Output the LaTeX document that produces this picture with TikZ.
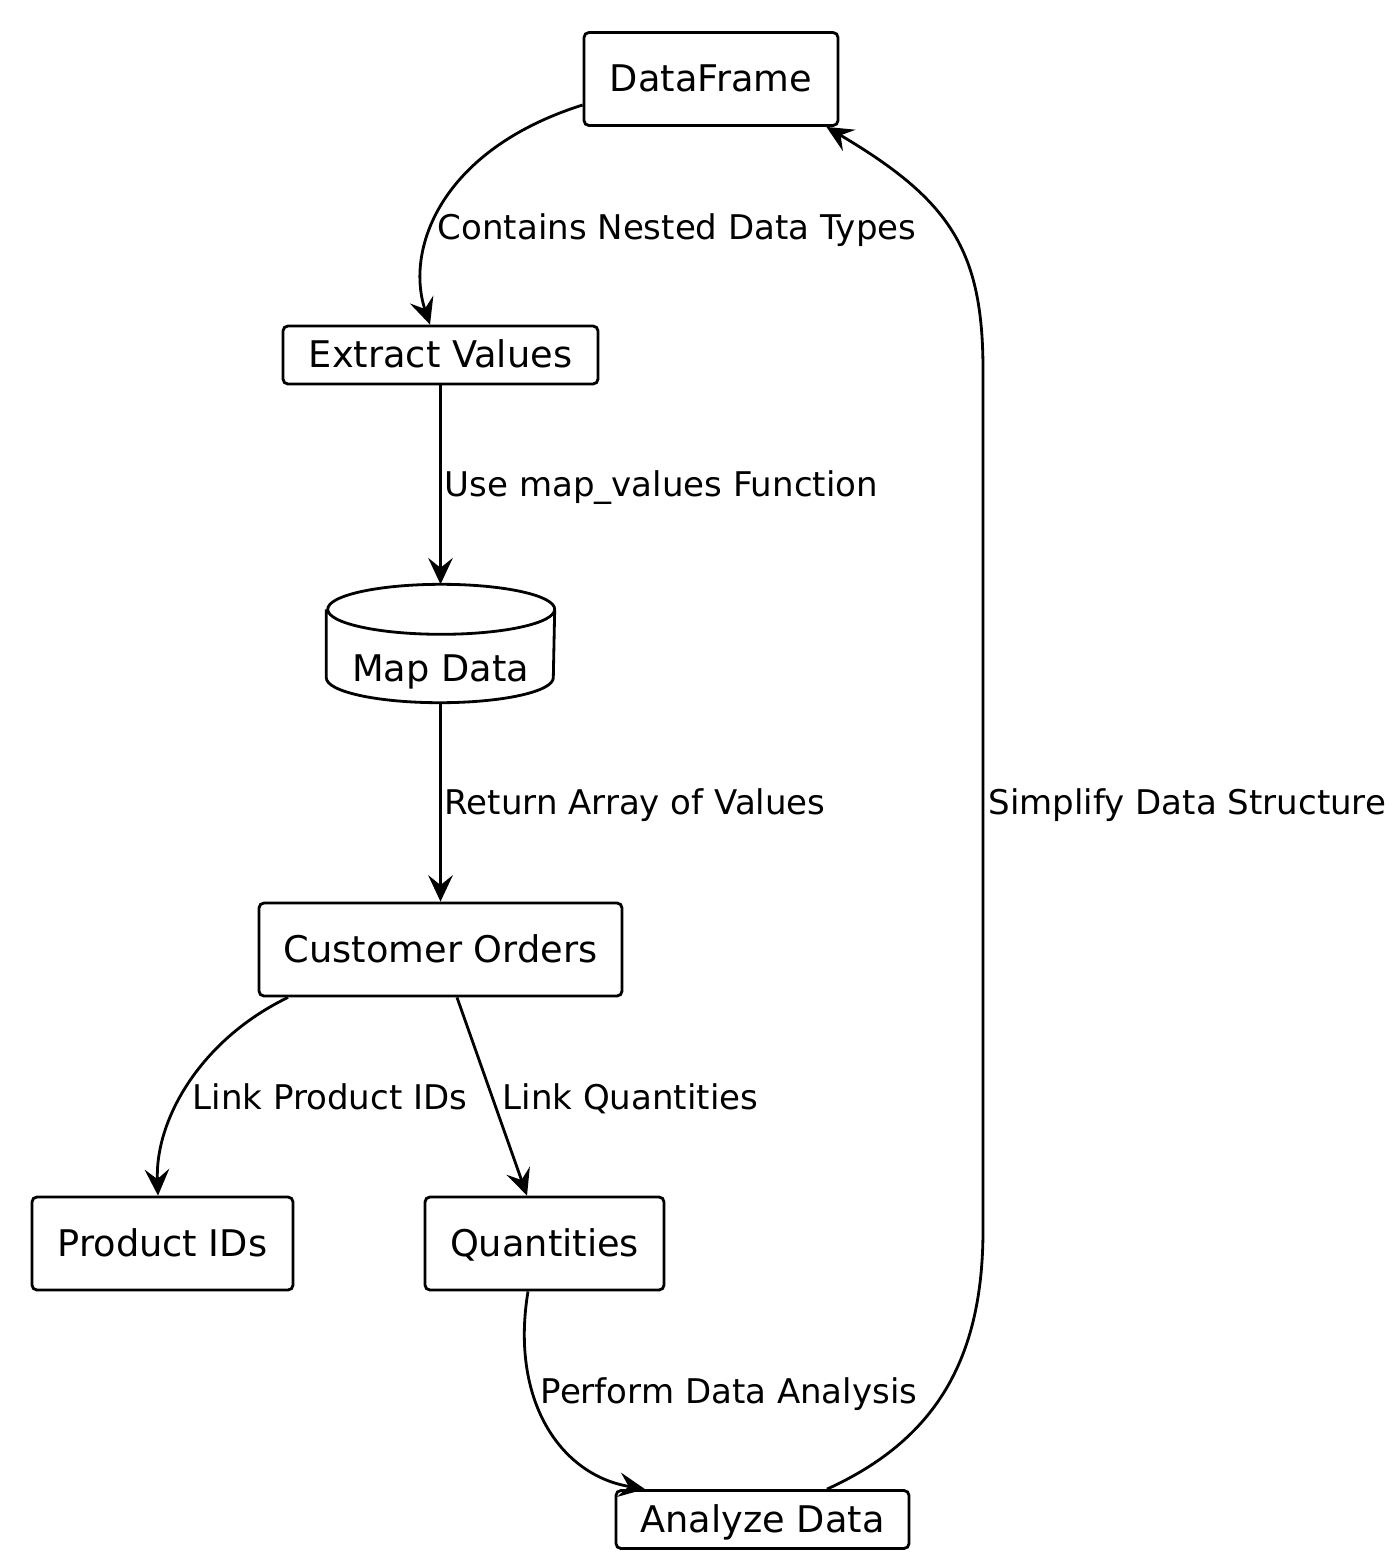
\documentclass[tikz,border=0pt]{standalone}
\usepackage{fontspec}
\setmainfont{DejaVu Sans}
\usetikzlibrary{arrows.meta, positioning}

\begin{document}
\begin{tikzpicture}[
    every node/.style={font=\fontsize{9.68}{11}\selectfont},
    box/.style={draw, rounded corners=1.4pt, line width=0.8pt, inner sep=0pt,
                minimum height=0.93cm, align=center,
                font=\fontsize{10.45}{12}\selectfont, text height=0.73em, text depth=0pt},
    thinbox/.style={box, minimum height=0.58cm},
    store/.style={inner sep=0pt, minimum width=2.27cm, minimum height=1.17cm,
                  font=\fontsize{10.45}{12}\selectfont, text height=0.956cm, text depth=0.2cm},
    lbl/.style={anchor=west, inner sep=0pt, text height=0.73em, text depth=0pt},
    arr/.style={-{Stealth[length=7.5pt, width=7pt, inset=2.8pt]}, line width=0.8pt}
]
    \useasboundingbox (0,0) rectangle (14,-15.61);

    % Main chain
    \node[box, minimum width=2.54cm] (df) at (7.11, -0.79) {DataFrame};
    \node[thinbox, minimum width=3.15cm] (ev) at (4.405, -3.55) {Extract Values};
    \node[store] (map) at (4.405, -6.435) {Map Data};
    \node[box, minimum width=3.63cm] (co) at (4.405, -9.495) {Customer Orders};

    % Two branches and the analysis step
    \node[box, minimum width=2.61cm] (pid) at (1.625, -12.435) {Product IDs};
    \node[box, minimum width=2.39cm] (qty) at (5.445, -12.435) {Quantities};
    \node[thinbox, minimum width=2.93cm] (ad) at (7.625, -15.195) {Analyze Data};

    % Cylinder outline for the map store
    \draw[line width=0.8pt] ([yshift=-0.25cm]map.north west) -- ([yshift=0.25cm]map.south west)
        arc[start angle=180, end angle=360, x radius=1.135cm, y radius=0.25cm]
        -- ([yshift=-0.25cm]map.north east)
        arc[start angle=0, end angle=360, x radius=1.135cm, y radius=0.25cm];

    % Return route on the right
    \coordinate (rlo) at (9.83, -12.30);
    \coordinate (rhi) at (9.83, -3.70);

    \draw[arr] ([yshift=-0.26cm]df.west) .. controls (4.40, -1.50) and (4.05, -2.50) .. ([xshift=-0.105cm]ev.north);
    \draw[arr] (ev.south) -- (map.north);
    \draw[arr] (map.south) -- (co.north);
    \draw[arr] ([xshift=-1.525cm]co.south) .. controls (2.00, -10.40) and (1.55, -11.20) .. ([xshift=-0.045cm]pid.north);
    \draw[arr] ([xshift=0.165cm]co.south) -- ([xshift=-0.175cm]qty.north);
    \draw[arr] ([xshift=-0.165cm]qty.south) .. controls (5.10, -14.00) and (5.60, -14.75) .. ([xshift=-1.175cm]ad.north);
    \draw[arr] ([xshift=0.645cm]ad.north) .. controls (9.35, -14.40) and (9.83, -13.60) .. (rlo)
        -- (rhi) .. controls (9.83, -2.50) and (9.50, -2.00) .. ([xshift=-0.13cm]df.south east);

    % Edge labels
    \node[lbl] (l1) at (4.37, -2.27) {Contains Nested Data Types};
    \node[lbl] (l2) at (4.44, -4.84) {Use map\_values Function};
    \node[lbl] (l3) at (4.44, -8.02) {Return Array of Values};
    \node[lbl] (l4) at (1.92, -10.97) {Link Product IDs};
    \node[lbl] (l5) at (5.02, -10.97) {Link Quantities};
    \node[lbl] (l6) at (5.40, -13.91) {Perform Data Analysis};
    \node[lbl] (l7) at (9.88, -8.02) {Simplify Data Structure};
\end{tikzpicture}
\end{document}
